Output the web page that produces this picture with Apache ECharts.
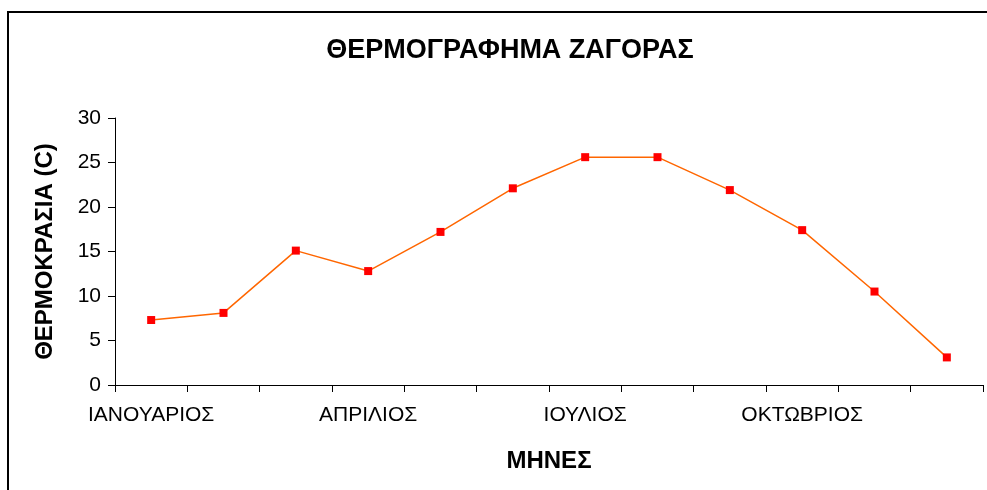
<!DOCTYPE html>
<html>
<head>
<meta charset="utf-8">
<script src="https://cdn.jsdelivr.net/npm/echarts@6/dist/echarts.min.js"></script>
<style>
  html, body { margin: 0; padding: 0; background: #fff; }
  #chart { width: 987px; height: 490px; }
</style>
</head>
<body>
<div id="chart"></div>
<script>
const months = ['ΙΑΝΟΥΑΡΙΟΣ', 'ΦΕΒΡΟΥΑΡΙΟΣ', 'ΜΑΡΤΙΟΣ', 'ΑΠΡΙΛΙΟΣ', 'ΜΑΙΟΣ', 'ΙΟΥΝΙΟΣ',
  'ΙΟΥΛΙΟΣ', 'ΑΥΓΟΥΣΤΟΣ', 'ΣΕΠΤΕΜΒΡΙΟΣ', 'ΟΚΤΩΒΡΙΟΣ', 'ΝΟΕΜΒΡΙΟΣ', 'ΔΕΚΕΜΒΡΙΟΣ']
const temps = [7.3, 8.1, 15.1, 12.8, 17.2, 22.1, 25.6, 25.6, 21.9, 17.4, 10.5, 3.1]

const chart = echarts.init(document.getElementById('chart'))
const font = "'Liberation Sans', Arial, sans-serif"

chart.setOption({
  animation: false,
  title: {
    text: 'ΘΕΡΜΟΓΡΑΦΗΜΑ ΖΑΓΟΡΑΣ',
    left: 505,
    textAlign: 'center',
    top: 32,
    textStyle: { fontFamily: font, fontSize: 27, fontWeight: 'bold', color: '#000' },
  },
  graphic: [
    {
      type: 'polyline',
      shape: { points: [[8, 495], [8, 12], [995, 12]] },
      style: { stroke: '#000', lineWidth: 2, fill: null },
    },
  ],
  grid: { left: 115, right: 4, top: 118, bottom: 105 },
  xAxis: {
    type: 'category',
    data: months,
    name: 'ΜΗΝΕΣ',
    nameLocation: 'middle',
    nameGap: 64,
    nameTextStyle: { fontFamily: font, fontSize: 24, fontWeight: 'bold', color: '#000' },
    axisLine: { lineStyle: { color: '#000', width: 1 } },
    axisTick: { show: true, interval: 0, length: 7, lineStyle: { color: '#000', width: 1 } },
    axisLabel: { interval: 2, color: '#000', fontFamily: font, fontSize: 21, margin: 20 },
    splitLine: { show: false },
  },
  yAxis: {
    type: 'value',
    min: 0,
    max: 30,
    interval: 5,
    name: 'ΘΕΡΜΟΚΡΑΣΙΑ (C)',
    nameLocation: 'middle',
    nameRotate: 90,
    nameGap: 58,
    nameTextStyle: { fontFamily: font, fontSize: 24, fontWeight: 'bold', color: '#000' },
    axisLine: { show: true, lineStyle: { color: '#000', width: 1 } },
    axisTick: { show: true, length: 7, lineStyle: { color: '#000' } },
    axisLabel: { color: '#000', fontFamily: font, fontSize: 21, margin: 14 },
    splitLine: { show: false },
  },
  series: [
    {
      type: 'line',
      data: temps,
      symbol: 'rect',
      symbolSize: 8,
      itemStyle: { color: '#ff0000' },
      lineStyle: { color: '#ff6600', width: 1.5 },
    },
  ],
})
</script>
</body>
</html>
